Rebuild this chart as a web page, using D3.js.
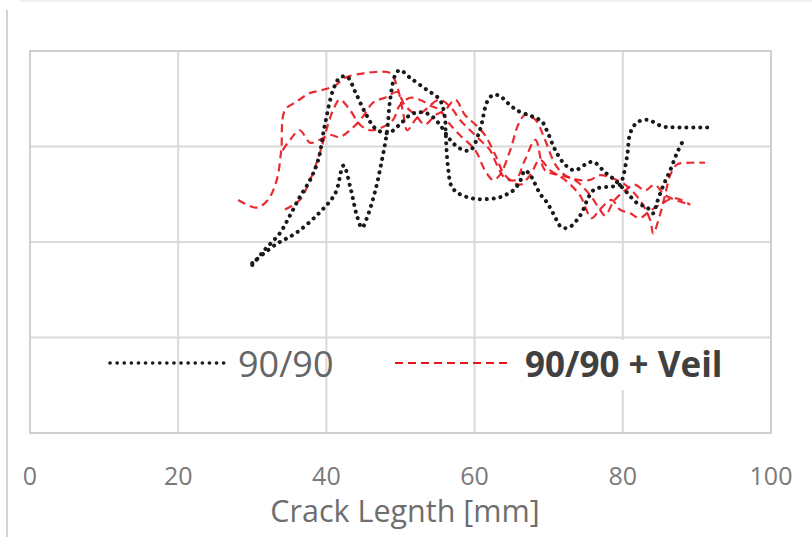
<!DOCTYPE html>
<html lang="en">
<head>
    <meta charset="UTF-8">
    <title>Crack Length</title>
    <script src="https://cdnjs.cloudflare.com/ajax/libs/d3/7.8.5/d3.min.js"></script>
    <style>
        body { margin: 0; background: #fff; }
        svg { display: block; font-family: 'Open Sans', sans-serif; }
    </style>
</head>
<body>
    <svg id="chart" width="812" height="537"></svg>
    <script>
        // x = crack length [mm], y = value (axis labels not shown in the source)
        const xTicks = [0, 20, 40, 60, 80, 100];
        const yTicks = [0, 1, 2, 3, 4];

        const black1 = [[30.0,1.76],[31.7,1.92],[33.7,2.09],[35.1,2.28],[36.4,2.47],[37.8,2.65],[38.9,2.86],[39.8,3.23],[40.9,3.59],[41.8,3.72],[42.8,3.73],[43.9,3.57],[45.2,3.36],[46.6,3.19],[48.3,3.14],[49.9,3.23],[51.3,3.33],[52.6,3.36],[54.0,3.33],[55.3,3.23],[56.7,3.07],[58.0,2.98],[59.4,2.96],[60.7,3.17],[61.7,3.47],[62.5,3.54],[63.4,3.53],[64.4,3.46],[65.7,3.38],[67.9,3.31],[69.1,3.26],[69.9,3.14],[70.9,2.96],[72.2,2.81],[73.5,2.75],[74.9,2.81],[76.0,2.84],[77.6,2.73],[78.9,2.65],[80.3,2.54],[81.9,2.41],[83.3,2.36],[84.1,2.30],[84.6,2.41],[85.4,2.58],[86.4,2.75],[87.3,2.93],[88.0,3.04]];
        const black2 = [[30.0,1.78],[33.1,1.97],[36.0,2.10],[39.1,2.31],[41.2,2.51],[42.3,2.80],[43.3,2.55],[44.1,2.28],[44.8,2.15],[45.6,2.28],[46.6,2.54],[47.5,2.86],[48.2,3.17],[48.6,3.49],[49.3,3.75],[49.9,3.80],[51.3,3.72],[53.6,3.59],[55.3,3.49],[56.0,3.30],[56.1,3.14],[56.4,2.79],[56.9,2.58],[57.8,2.51],[59.0,2.47],[60.3,2.45],[61.7,2.45],[63.0,2.46],[64.1,2.49],[65.2,2.54],[66.1,2.63],[66.8,2.75],[67.5,2.70],[67.9,2.65],[68.8,2.51],[69.8,2.41],[70.6,2.30],[71.8,2.15],[72.9,2.16],[73.8,2.23],[74.5,2.31],[75.2,2.44],[76.0,2.54],[76.9,2.57],[78.5,2.58],[79.6,2.60],[80.0,2.67],[80.6,2.91],[81.0,3.14],[81.9,3.25],[83.3,3.28],[85.4,3.21],[87.7,3.20],[91.5,3.20]];
        const red1 = [[28.1,2.44],[30.6,2.36],[32.1,2.44],[33.3,2.65],[33.9,2.96],[34.4,3.38],[36.0,3.47],[37.8,3.56],[39.4,3.59],[41.2,3.64],[42.5,3.72],[44.5,3.76],[46.6,3.78],[48.6,3.77],[49.5,3.64],[50.3,3.38],[50.9,3.17],[52.0,3.28],[53.3,3.38],[55.3,3.49],[56.9,3.40],[58.0,3.28],[59.4,3.17],[60.7,3.07],[62.1,2.96],[63.0,2.81],[64.1,2.67],[65.5,2.65],[66.8,2.86],[68.2,3.07],[69.5,2.75],[71.5,2.70],[73.5,2.65],[75.6,2.49],[76.9,2.34],[77.6,2.28],[78.9,2.44],[80.3,2.54],[81.6,2.60],[83.0,2.54],[84.3,2.60],[85.7,2.49],[89.1,2.39]];
        const red2 = [[34.4,2.34],[36.4,2.44],[37.8,2.65],[39.1,2.93],[40.1,3.20],[40.9,3.38],[41.8,3.49],[43.2,3.38],[44.5,3.23],[45.9,3.17],[47.2,3.19],[49.0,3.28],[49.9,3.43],[51.3,3.51],[52.6,3.49],[54.0,3.43],[55.3,3.38],[56.7,3.23],[58.0,3.12],[60.1,2.96],[61.4,2.75],[62.5,2.65],[63.4,2.70],[64.8,2.96],[65.9,3.23],[66.8,3.33],[68.2,3.28],[69.5,3.07],[70.9,2.81],[72.2,2.70],[74.0,2.65],[75.6,2.65],[76.9,2.70],[78.5,2.67],[80.3,2.60],[82.3,2.44],[83.7,2.23],[84.1,2.09],[85.0,2.28],[85.7,2.49],[86.4,2.70],[87.3,2.81],[89.1,2.83],[91.1,2.83]];
        const red3 = [[34.1,2.96],[35.1,3.07],[36.4,3.17],[37.8,3.04],[39.1,3.07],[40.5,3.12],[41.8,3.10],[43.6,3.20],[44.9,3.31],[46.3,3.46],[48.2,3.52],[49.5,3.57],[50.6,3.43],[52.0,3.33],[53.3,3.23],[54.7,3.33],[56.0,3.38],[57.4,3.49],[58.7,3.33],[60.1,3.23],[61.4,3.12],[62.8,2.91],[64.1,2.70],[66.1,2.60],[67.5,2.70],[68.8,2.86],[70.2,2.75],[72.2,2.65],[74.2,2.49],[75.8,2.25],[76.9,2.34],[78.5,2.44],[79.6,2.34],[81.0,2.30],[82.3,2.25],[83.4,2.31],[85.0,2.39],[87.0,2.46],[89.1,2.39]];

        const blackSeries = [black1, black2];
        const redSeries = [red1, red2, red3];
        const legendLabels = ["90/90", "90/90 + Veil"];

        const svg = d3.select("#chart");
        const plot = { left: 30, right: 771, top: 51, bottom: 433 };

        const x = d3.scaleLinear().domain([0, 100]).range([plot.left, plot.right]);
        const y = d3.scaleLinear().domain([0, 4]).range([plot.bottom, plot.top]);

        // outer frame of the cropped figure
        svg.append("line").attr("x1", 7).attr("x2", 7).attr("y1", 10).attr("y2", 537)
            .attr("stroke", "#d4d4d4").attr("stroke-width", 2);
        svg.append("line").attr("x1", 20).attr("x2", 812).attr("y1", 1).attr("y2", 1)
            .attr("stroke", "#efefef").attr("stroke-width", 2);

        // grid
        svg.append("g").selectAll("line").data(xTicks).join("line")
            .attr("x1", d => x(d)).attr("x2", d => x(d))
            .attr("y1", plot.top).attr("y2", plot.bottom)
            .attr("stroke", "#d9d9d9").attr("stroke-width", 2);
        svg.append("g").selectAll("line").data(yTicks).join("line")
            .attr("x1", plot.left).attr("x2", plot.right)
            .attr("y1", d => y(d)).attr("y2", d => y(d))
            .attr("stroke", "#d9d9d9").attr("stroke-width", 2);
        svg.append("rect").attr("x", plot.left).attr("y", plot.top)
            .attr("width", plot.right - plot.left).attr("height", plot.bottom - plot.top)
            .attr("fill", "none").attr("stroke", "#d0d0d0").attr("stroke-width", 2);

        const line = d3.line().x(d => x(d[0])).y(d => y(d[1])).curve(d3.curveCatmullRom);

        svg.append("g").selectAll("path").data(redSeries).join("path")
            .attr("d", line).attr("fill", "none")
            .attr("stroke", "#e8141c").attr("stroke-width", 2.2)
            .attr("stroke-dasharray", "8 5").attr("opacity", 0.9);

        svg.append("g").selectAll("path").data(blackSeries).join("path")
            .attr("d", line).attr("fill", "none")
            .attr("stroke", "#1a1a1a").attr("stroke-width", 4)
            .attr("stroke-linecap", "round").attr("stroke-dasharray", "0.1 6.8");

        // x axis labels
        svg.append("g").selectAll("text").data(xTicks).join("text")
            .attr("x", d => x(d)).attr("y", 485)
            .attr("text-anchor", "middle").attr("font-size", 25)
            .attr("fill", "#7a7a7a").text(d => d);
        svg.append("text").attr("x", 405).attr("y", 522)
            .attr("text-anchor", "middle").attr("font-size", 30.5)
            .attr("fill", "#6e6e6e").text("Crack Legnth [mm]");

        // legend
        const leg = svg.append("g");
        leg.append("rect").attr("x", 518).attr("y", 340).attr("width", 215).attr("height", 50)
            .attr("fill", "#fff");
        leg.append("line").attr("x1", 110).attr("x2", 228).attr("y1", 363).attr("y2", 363)
            .attr("stroke", "#1a1a1a").attr("stroke-width", 3.6)
            .attr("stroke-linecap", "round").attr("stroke-dasharray", "0.1 7");
        leg.append("text").attr("x", 238).attr("y", 377).attr("font-size", 36)
            .attr("fill", "#666").text(legendLabels[0]);
        leg.append("line").attr("x1", 395).attr("x2", 510).attr("y1", 363).attr("y2", 363)
            .attr("stroke", "#e8141c").attr("stroke-width", 1.8)
            .attr("stroke-dasharray", "8 5");
        leg.append("text").attr("x", 525).attr("y", 377).attr("font-size", 35)
            .attr("font-weight", "bold").attr("fill", "#404040").text(legendLabels[1]);
    </script>
</body>
</html>
